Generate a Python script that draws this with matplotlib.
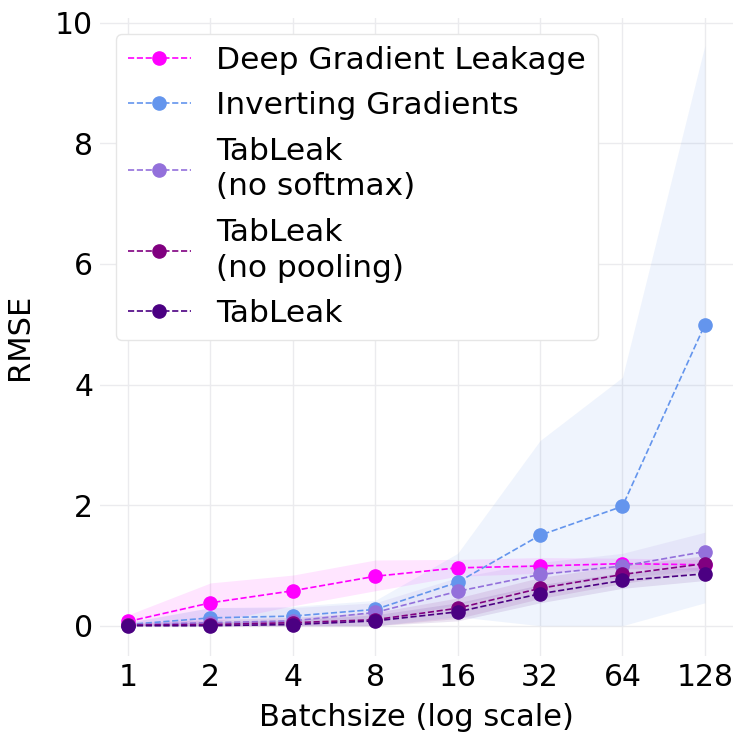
import matplotlib
matplotlib.use("Agg")
import matplotlib.pyplot as plt
import numpy as np

batch = [1, 2, 4, 8, 16, 32, 64, 128]
tick_labels = ["1", "2", "4", "8", "16", "32", "64", "128"]

names = ["Deep Gradient Leakage", "Inverting Gradients", "TabLeak\n(no softmax)",
         "TabLeak\n(no pooling)", "TabLeak"]
colors = ["#FF00FF", "#6495ED", "#9370DB", "#800080", "#4B0082"]

dgl_mean = [0.07, 0.38, 0.58, 0.82, 0.96, 0.99, 1.03, 1.01]
dgl_low = [0.0, 0.05, 0.33, 0.58, 0.82, 0.87, 0.95, 0.92]
dgl_high = [0.18, 0.71, 0.84, 1.09, 1.10, 1.13, 1.12, 1.10]

ig_mean = [0.02, 0.13, 0.16, 0.27, 0.72, 1.50, 1.98, 4.99]
ig_low = [0.0, 0.0, 0.0, 0.0, 0.15, 0.0, 0.0, 0.38]
ig_high = [0.05, 0.30, 0.32, 0.42, 1.20, 3.07, 4.12, 9.62]

ns_mean = [0.02, 0.05, 0.08, 0.22, 0.57, 0.85, 0.99, 1.23]
ns_low = [0.0, 0.0, 0.0, 0.08, 0.35, 0.65, 0.80, 0.92]
ns_high = [0.06, 0.30, 0.30, 0.38, 0.80, 1.05, 1.20, 1.55]

np_mean = [0.01, 0.02, 0.05, 0.10, 0.29, 0.62, 0.85, 1.03]
np_low = [0.0, 0.0, 0.0, 0.0, 0.12, 0.45, 0.70, 0.90]
np_high = [0.05, 0.10, 0.14, 0.22, 0.46, 0.80, 1.00, 1.16]

tl_mean = [0.0, 0.0, 0.02, 0.08, 0.23, 0.53, 0.75, 0.86]
tl_low = [0.0, 0.0, 0.0, 0.0, 0.08, 0.38, 0.62, 0.75]
tl_high = [0.03, 0.06, 0.10, 0.18, 0.38, 0.68, 0.88, 0.98]

means = [dgl_mean, ig_mean, ns_mean, np_mean, tl_mean]
lows = [dgl_low, ig_low, ns_low, np_low, tl_low]
highs = [dgl_high, ig_high, ns_high, np_high, tl_high]

plt.rcParams['font.family'] = ['DejaVu Sans']
fig = plt.figure(figsize=(7.47, 7.47), dpi=100)
ax = fig.add_axes([0.134, 0.122, 0.847, 0.854])

for name, c, m, lo, hi in zip(names, colors, means, lows, highs):
    ax.fill_between(batch, lo, hi, color=c, alpha=0.1, linewidth=0)
    ax.plot(batch, m, linestyle="--", marker="o", color=c, markersize=9.5,
            linewidth=1.2, label=name)

ax.set_xscale("log", base=2)
ax.set_xticks(batch)
ax.set_xticklabels(tick_labels)
ax.minorticks_off()
ax.set_xlim(2 ** -0.34, 2 ** 7.34)
ax.set_ylim(-0.5, 10.08)
ax.set_yticks([0, 2, 4, 6, 8, 10])
ax.tick_params(axis="both", labelsize=21.5, length=0, pad=5)
for s in ax.spines.values():
    s.set_visible(False)
ax.grid(True, color="#ebebee", linewidth=1)
ax.set_axisbelow(True)
ax.set_xlabel("Batchsize (log scale)", fontsize=22, labelpad=8)
ax.set_ylabel("RMSE", fontsize=22, labelpad=15)

leg = ax.legend(loc="upper left", fontsize=22.5, frameon=True, fancybox=True,
                borderpad=0.4, labelspacing=0.52, handlelength=2.0,
                handletextpad=0.8)
for t in leg.get_texts():
    t.set_linespacing(1.3)
leg.get_frame().set_edgecolor("#e6e6e6")
leg.get_frame().set_alpha(1.0)

fig.savefig("out.png", dpi=100)
